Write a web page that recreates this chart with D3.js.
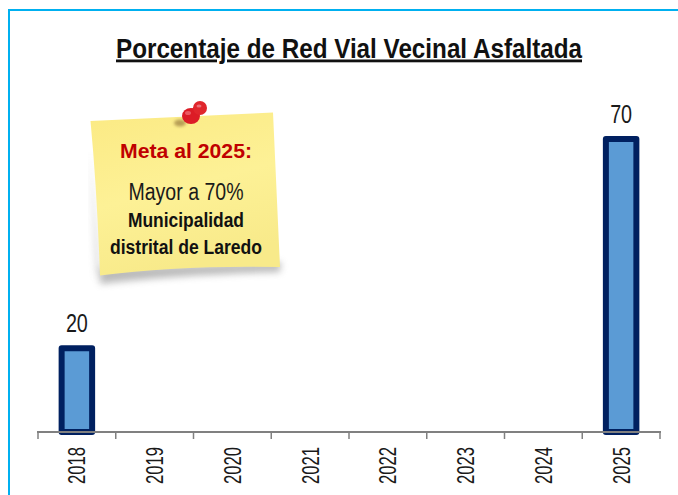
<!DOCTYPE html>
<html><head><meta charset="utf-8">
<script src="https://cdn.jsdelivr.net/npm/d3@7/dist/d3.min.js"></script>
<style>html,body{margin:0;padding:0;background:#fff}svg{display:block}text{font-family:"Liberation Sans",Arial,sans-serif}</style>
</head><body><svg id="c" width="678" height="495"></svg>
<script>
const categories=["2018","2019","2020","2021","2022","2023","2024","2025"];
const values=[20,null,null,null,null,null,null,70];
const titleText="Porcentaje de Red Vial Vecinal Asfaltada";
const noteHead="Meta al 2025:";
const noteLines=["Mayor a 70%","Municipalidad","distrital de Laredo"];

const svg=d3.select("#c");
const defs=svg.append("defs");
const g=defs.append("linearGradient").attr("id","note").attr("x1",0).attr("y1",0).attr("x2",.3).attr("y2",1);
g.append("stop").attr("offset","0").attr("stop-color","#fbea84");
g.append("stop").attr("offset","0.55").attr("stop-color","#fdf196");
g.append("stop").attr("offset","1").attr("stop-color","#f8ea8a");
defs.append("filter").attr("id","blur").attr("x","-20%").attr("y","-50%").attr("width","140%").attr("height","200%")
  .append("feGaussianBlur").attr("stdDeviation",3.5);
defs.append("filter").attr("id","blur1").attr("x","-50%").attr("y","-50%").attr("width","200%").attr("height","200%")
  .append("feGaussianBlur").attr("stdDeviation",1.6);
defs.append("filter").attr("id","soft").attr("x","-10%").attr("y","-10%").attr("width","120%").attr("height","120%")
  .append("feGaussianBlur").attr("stdDeviation",.4);

// frame
svg.append("path").attr("d","M9 495V10H678").attr("fill","none").attr("stroke","#00b0f0").attr("stroke-width",2);

// title
svg.append("text").attr("x",349).attr("y",57.5).attr("text-anchor","middle")
  .attr("font-size",28).attr("font-weight","bold").attr("fill","#111")
  .attr("text-decoration","underline").attr("textLength",466).attr("lengthAdjust","spacingAndGlyphs").text(titleText);

// scales
const x=d3.scaleBand().domain(categories).range([38,660]);
const y=d3.scaleLinear().domain([0,70]).range([432,139]);

const data=categories.map((c,i)=>({c,v:values[i]})).filter(d=>d.v!=null);
const barW=30.5;
svg.selectAll("rect.bar").data(data).join("rect").attr("class","bar")
  .attr("x",d=>x(d.c)+x.bandwidth()/2-barW/2).attr("y",d=>y(d.v))
  .attr("width",barW).attr("height",d=>y(0)-y(d.v))
  .attr("fill","#5b9bd5").attr("stroke","#002060").attr("stroke-width",6).attr("stroke-linejoin","round");

svg.selectAll("text.val").data(data).join("text").attr("class","val")
  .attr("x",d=>x(d.c)+x.bandwidth()/2).attr("y",d=>y(d.v)-16)
  .attr("text-anchor","middle").attr("font-size",25).attr("fill","#1a1a1a")
  .attr("textLength",22).attr("lengthAdjust","spacingAndGlyphs").text(d=>d.v);

// axis
const axis=svg.append("g").attr("transform","translate(0,432)");
axis.append("line").attr("x1",37).attr("x2",661).attr("stroke","#808080").attr("stroke-width",2);
const ticks=categories.map(c=>x(c)).concat([660]);
axis.selectAll("line.t").data(ticks).join("line").attr("class","t")
  .attr("x1",d=>d).attr("x2",d=>d).attr("y1",0).attr("y2",7).attr("stroke","#808080").attr("stroke-width",1.5);
axis.selectAll("text").data(categories).join("text")
  .attr("transform",c=>`translate(${x(c)+x.bandwidth()/2+8.5},52) rotate(-90)`)
  .attr("font-size",24).attr("fill","#1a1a1a").attr("textLength",37).attr("lengthAdjust","spacingAndGlyphs").text(c=>c);

// sticky note
const note=svg.append("g");
note.append("path").attr("d","M100 284 Q170 275 280 272 L281 262 L100 268Z").attr("fill","#777").attr("opacity",.5).attr("filter","url(#blur)");
note.append("path").attr("d","M97 280 Q92 200 90 150 L100 270Z").attr("fill","#888").attr("opacity",.4).attr("filter","url(#blur)");
note.append("path").attr("d","M90.5 121 L273 112.5 L280 267 Q180 265 100 275.5 Q97 190 90.5 121Z").attr("fill","url(#note)").attr("filter","url(#soft)");

// pin
note.append("ellipse").attr("cx",180).attr("cy",123).attr("rx",6).attr("ry",3.5).attr("fill","#8a6a30").attr("opacity",.6).attr("filter","url(#blur1)");
note.append("line").attr("x1",188).attr("y1",117).attr("x2",198).attr("y2",108).attr("stroke","#d01c24").attr("stroke-width",7).attr("stroke-linecap","round");
note.append("ellipse").attr("cx",191).attr("cy",116).attr("rx",9).attr("ry",8).attr("fill","#dc1c26");
note.append("circle").attr("cx",200).attr("cy",108).attr("r",7).attr("fill","#e0262c");
note.append("ellipse").attr("cx",188).attr("cy",113).attr("rx",3).attr("ry",2).attr("fill","#ea5a62").attr("filter","url(#soft)");
note.append("ellipse").attr("cx",199).attr("cy",106).attr("rx",2.5).attr("ry",1.6).attr("fill","#ec7078").attr("filter","url(#soft)");

note.append("text").attr("x",186).attr("y",158).attr("text-anchor","middle").attr("font-size",21).attr("font-weight","bold").attr("fill","#c00000").attr("textLength",132).attr("lengthAdjust","spacingAndGlyphs").text(noteHead);
note.append("text").attr("x",186).attr("y",200).attr("text-anchor","middle").attr("font-size",23).attr("fill","#1a1a1a").attr("textLength",115).attr("lengthAdjust","spacingAndGlyphs").text(noteLines[0]);
note.append("text").attr("x",186).attr("y",227).attr("text-anchor","middle").attr("font-size",20).attr("font-weight","bold").attr("fill","#111").attr("textLength",116).attr("lengthAdjust","spacingAndGlyphs").text(noteLines[1]);
note.append("text").attr("x",186).attr("y",254).attr("text-anchor","middle").attr("font-size",20).attr("font-weight","bold").attr("fill","#111").attr("textLength",152).attr("lengthAdjust","spacingAndGlyphs").text(noteLines[2]);
</script></body></html>
